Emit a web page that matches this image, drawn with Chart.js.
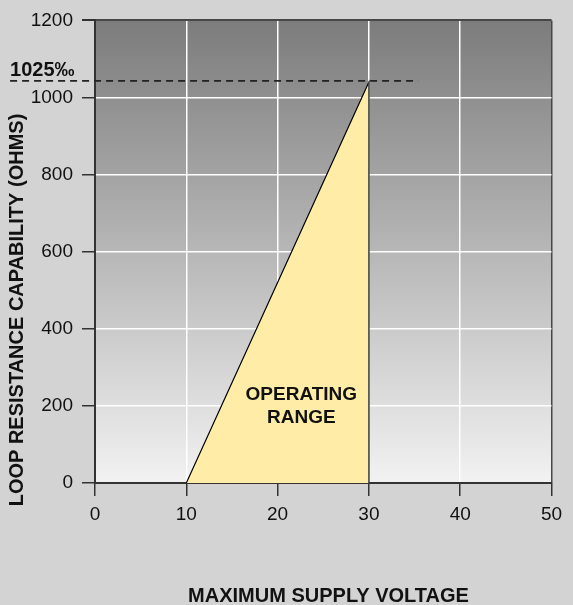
<!DOCTYPE html>
<html lang="en">
<head>
    <meta charset="UTF-8">
    <title>Loop resistance vs supply voltage</title>
    <script src="https://cdn.jsdelivr.net/npm/chart.js"></script>
    <style>
        html, body { margin: 0; padding: 0; background: #d3d3d3; }
        canvas { display: block; }
    </style>
</head>
<body>
    <canvas id="loopChart" width="573" height="605"></canvas>
    <script>
    // values
    const xTickValues = [0, 10, 20, 30, 40, 50];
    const yTickValues = [0, 200, 400, 600, 800, 1000, 1200];
    const rangeX = [10, 30, 30];
    const rangeY = [0, 1040, 0];
    const limitX = [-9.3, 35.4];
    const limitY = 1043;
    const limitLabel = '1025‰';
    const rangeLabel = ['OPERATING', 'RANGE'];
    const rangeLabelX = 22.6;
    const rangeLabelY = [230, 168];
    const xTitle = 'MAXIMUM SUPPLY VOLTAGE';
    const yTitle = 'LOOP RESISTANCE CAPABILITY (OHMS)';

    const FONT = '"Liberation Sans", Arial, sans-serif';

    // gradient behind the plot, grey outside
    const plotBg = {
        id: 'plotBg',
        beforeDraw(chart) {
            const {ctx, chartArea: a} = chart;
            const g = ctx.createLinearGradient(0, a.top, 0, a.bottom);
            g.addColorStop(0, '#7c7c7c');
            g.addColorStop(1, '#f2f2f2');
            ctx.save();
            ctx.fillStyle = g;
            ctx.fillRect(a.left, a.top, a.right - a.left, a.bottom - a.top);
            ctx.restore();
        }
    };

    // texts + the right edge of the area (grid is drawn over the fill)
    const extras = {
        id: 'extras',
        afterDraw(chart) {
            const {ctx, scales: {x, y}} = chart;
            ctx.save();
            // right edge of operating range, on top of the white grid line
            const pts = chart.getDatasetMeta(0).data;
            ctx.strokeStyle = '#6a6a6a';
            ctx.lineWidth = 1;
            ctx.beginPath();
            ctx.moveTo(pts[1].x, pts[1].y);
            ctx.lineTo(pts[2].x, pts[2].y);
            ctx.stroke();

            ctx.fillStyle = '#111';
            ctx.textAlign = 'center';
            ctx.textBaseline = 'middle';
            ctx.font = 'bold 19px ' + FONT;
            rangeLabel.forEach((t, i) => {
                ctx.fillText(t, x.getPixelForValue(rangeLabelX), y.getPixelForValue(rangeLabelY[i]));
            });

            ctx.font = 'bold 20px ' + FONT;
            ctx.textAlign = 'left';
            ctx.textBaseline = 'alphabetic';
            ctx.fillText(limitLabel, x.getPixelForValue(limitX[0]), y.getPixelForValue(limitY) - 5);

            ctx.font = 'bold 20px ' + FONT;
            ctx.textAlign = 'center';
            ctx.textBaseline = 'middle';
            ctx.fillText(xTitle, 328.5, 596);
            ctx.translate(17, 310);
            ctx.rotate(-Math.PI / 2);
            ctx.fillText(yTitle, 0, 0);
            ctx.restore();
        }
    };

    const edgeColor = (edge) => (c) => (c.tick && c.tick.value === edge) ? '#474747' : '#ffffff';

    new Chart(document.getElementById('loopChart'), {
        type: 'line',
        data: {
            datasets: [{
                data: rangeX.map((v, i) => ({x: v, y: rangeY[i]})),
                borderColor: '#000',
                borderWidth: 1.2,
                backgroundColor: '#ffeca6',
                fill: 'origin',
                pointRadius: 0,
                tension: 0
            }, {
                data: limitX.map(v => ({x: v, y: limitY})),
                borderColor: '#222',
                borderWidth: 1.6,
                borderDash: [7, 5],
                fill: false,
                pointRadius: 0,
                clip: false
            }]
        },
        plugins: [plotBg, extras],
        options: {
            responsive: false,
            animation: false,
            layout: {padding: {left: 0, right: 21.5, top: 19, bottom: 0}},
            plugins: {legend: {display: false}, tooltip: {enabled: false}},
            scales: {
                x: {
                    type: 'linear',
                    min: 0, max: 50,
                    z: 1,
                    afterFit: s => { s.height = 122; },
                    afterBuildTicks: s => { s.ticks = xTickValues.map(v => ({value: v})); },
                    grid: {color: edgeColor(50), lineWidth: 1.5, tickColor: '#333', tickLength: 13},
                    border: {color: '#333', width: 2},
                    ticks: {color: '#111', padding: 7, maxRotation: 0, font: {family: FONT, size: 19}, callback: v => String(v)}
                },
                y: {
                    min: 0, max: 1200,
                    z: 1,
                    afterFit: s => { s.width = 95; },
                    afterBuildTicks: s => { s.ticks = yTickValues.map(v => ({value: v})); },
                    grid: {color: edgeColor(1200), lineWidth: c => (c.tick && c.tick.value === 1200) ? 2 : 1.5, tickColor: '#333', tickLength: 13},
                    border: {color: '#333', width: 2},
                    ticks: {color: '#111', padding: 9, font: {family: FONT, size: 19}, callback: v => String(v)}
                }
            }
        }
    });
    </script>
</body>
</html>
